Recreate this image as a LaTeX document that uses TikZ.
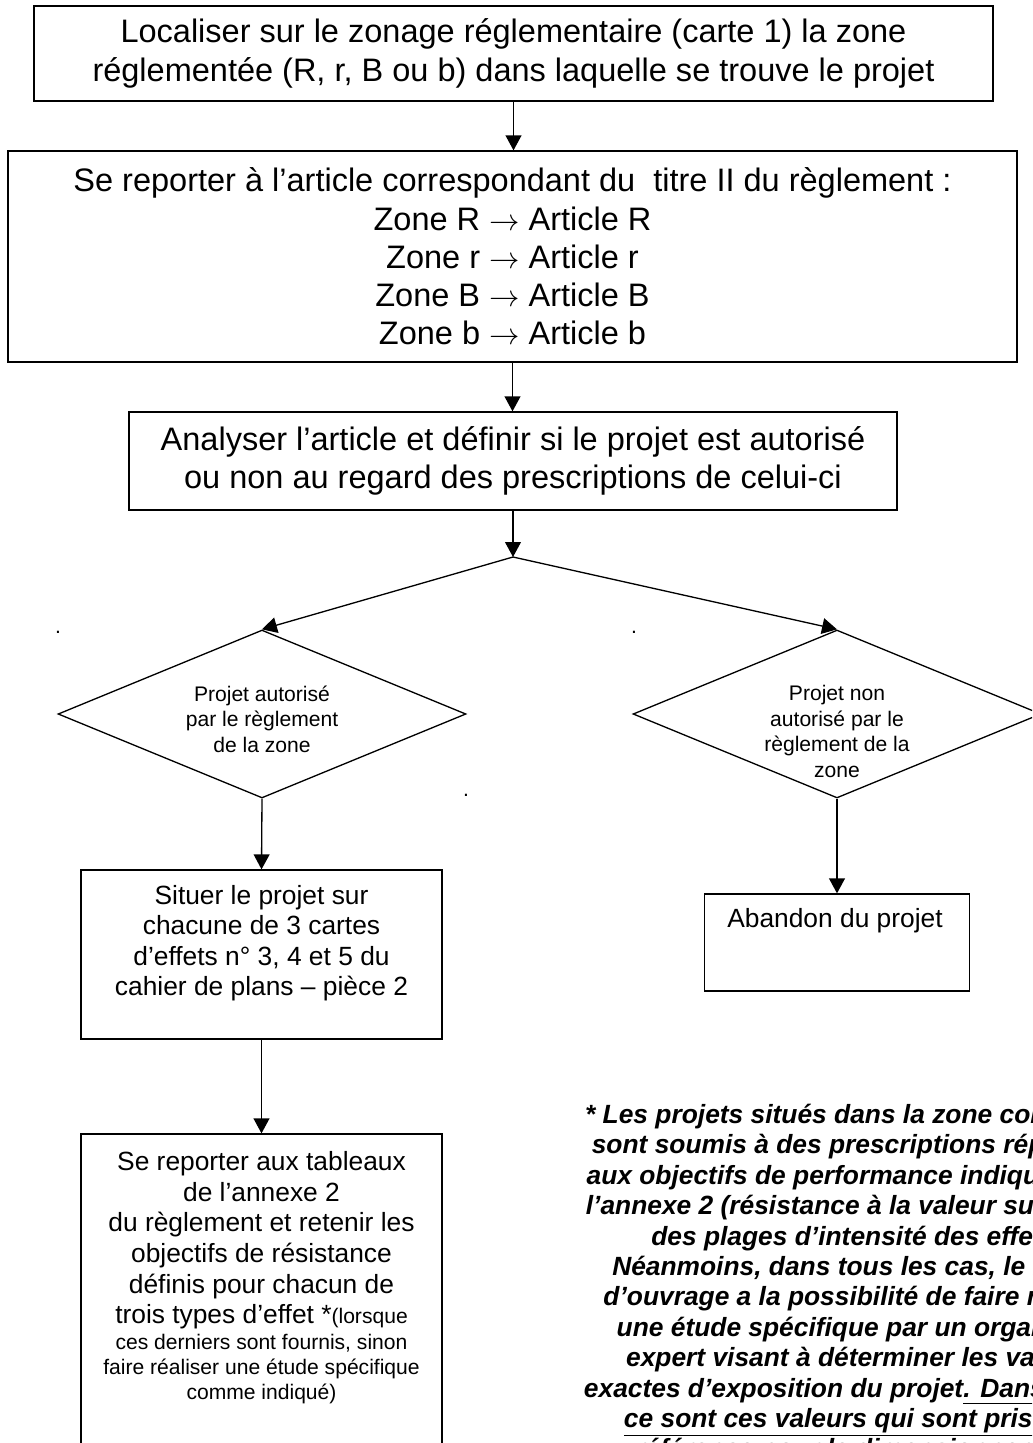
\documentclass[tikz,border=0pt]{standalone}
\usepackage{fontspec}
\setmainfont{Liberation Sans}
\usetikzlibrary{arrows.meta,shapes.geometric}

\tikzset{
  box/.style={draw, rectangle, inner sep=0pt, align=center},
  decision/.style={draw, diamond, inner sep=0pt, minimum width=8.16cm, minimum height=3.36cm},
  big/.style={font=\fontsize{18.5}{21.8}\selectfont},
  mid/.style={font=\fontsize{15}{17.4}\selectfont},
  small/.style={font=\fontsize{12}{14.5}\selectfont},
  txt/.style={inner sep=0pt, align=center, anchor=north},
  note/.style={txt, font=\fontsize{15}{17.3}\selectfont\bfseries\itshape}
}

\begin{document}
\begin{tikzpicture}[x=0.02cm, y=-0.02cm, line width=0.75pt, >={Triangle[length=8.5pt,width=9pt]}]
\useasboundingbox (0,0) rectangle (1032,1443);
\clip (0,0) rectangle (1032,1443);

\node (localiser) at (513.5,53.5) [box, big, minimum width=19.18cm, minimum height=1.9cm] {Localiser sur le zonage réglementaire (carte 1) la zone\\réglementée (R, r, B ou b) dans laquelle se trouve le projet};
\node (reporter) at (512.5,256.5) [box, big, minimum width=20.18cm, minimum height=4.22cm] {Se reporter à l’article correspondant du \ titre II du règlement :\\Zone R $\rightarrow$ Article R\\Zone r $\rightarrow$ Article r\\Zone B $\rightarrow$ Article B\\Zone b $\rightarrow$ Article b};
\node (analyser) at (513,461) [box, big, minimum width=15.36cm, minimum height=1.96cm] {Analyser l’article et définir si le projet est autorisé\\ou non au regard des prescriptions de celui-ci};
\coordinate (split) at (513,557);

% les deux cas
\node (autorise) at (262,714) [decision] {};
\node (autorise-txt) at (262,685) [txt, small] {Projet autorisé\\par le règlement\\de la zone};
\node (refuse) at (837,714) [decision] {};
\node (refuse-txt) at (837,685) [txt, small] {Projet non\\autorisé par le\\règlement de la\\zone};

\node (dot1) at (58,633) [small, inner sep=0pt, anchor=base] {.};
\node (dot2) at (634,633) [small, inner sep=0pt, anchor=base] {.};
\node (dot3) at (466,796) [small, inner sep=0pt, anchor=base] {.};

\node (situer) at (261.5,954.5) [box, minimum width=7.22cm, minimum height=3.38cm] {};
\node (situer-txt) at (261.5,884.5) [txt, mid] {Situer le projet sur\\chacune de 3 cartes\\d’effets n° 3, 4 et 5 du\\cahier de plans – pièce 2};
\node (tableaux) at (261.5,1317) [box, minimum width=7.22cm, minimum height=7.32cm] {};
\node (tableaux-txt) at (261.5,1151) [txt, mid] {Se reporter aux tableaux\\de l’annexe 2\\du règlement et retenir les\\objectifs de résistance\\définis pour chacun de\\trois types d’effet *{\fontsize{12}{14.2}\selectfont(lorsque}\\[-2.6pt]
  {\fontsize{12}{14.2}\selectfont ces derniers sont fournis, sinon}\\[-3.2pt]
  {\fontsize{12}{14.2}\selectfont faire réaliser une étude spécifique}\\[-3.2pt]
  {\fontsize{12}{14.2}\selectfont comme indiqué)}};
\node (abandon) at (837,942.5) [box, minimum width=5.3cm, minimum height=1.94cm] {};
\node (abandon-txt) at (835,908) [txt, mid] {Abandon du projet};

% renvoi *
\node (renvoi) at (862,1103.5) [note] {* Les projets situés dans la zone considérée\\sont soumis à des prescriptions répondant\\aux objectifs de performance indiqués dans\\l’annexe 2 (résistance à la valeur supérieure\\des plages d’intensité des effets).\\Néanmoins, dans tous les cas, le maître\\d’ouvrage a la possibilité de faire réaliser\\une étude spécifique par un organisme\\expert visant à déterminer les valeurs\\exactes d’exposition du projet\underline{. Dans ce cas,}\\\underline{ce sont ces valeurs qui sont prises en}\\\underline{référence pour le dimensionnement.}};

\draw[->] (localiser.south) -- (localiser.south |- reporter.north);
\draw[->] (reporter.south) -- (reporter.south |- analyser.north);
\draw[->] (analyser.south) -- (split);
\draw[->] (split) -- (autorise.north);
\draw[->] (split) -- (refuse.north);
\draw[->] (autorise.south) -- (situer.north);
\draw[->] (refuse.south) -- (refuse.south |- abandon.north);
\draw[->] (situer.south) -- (tableaux.north);
\end{tikzpicture}
\end{document}
